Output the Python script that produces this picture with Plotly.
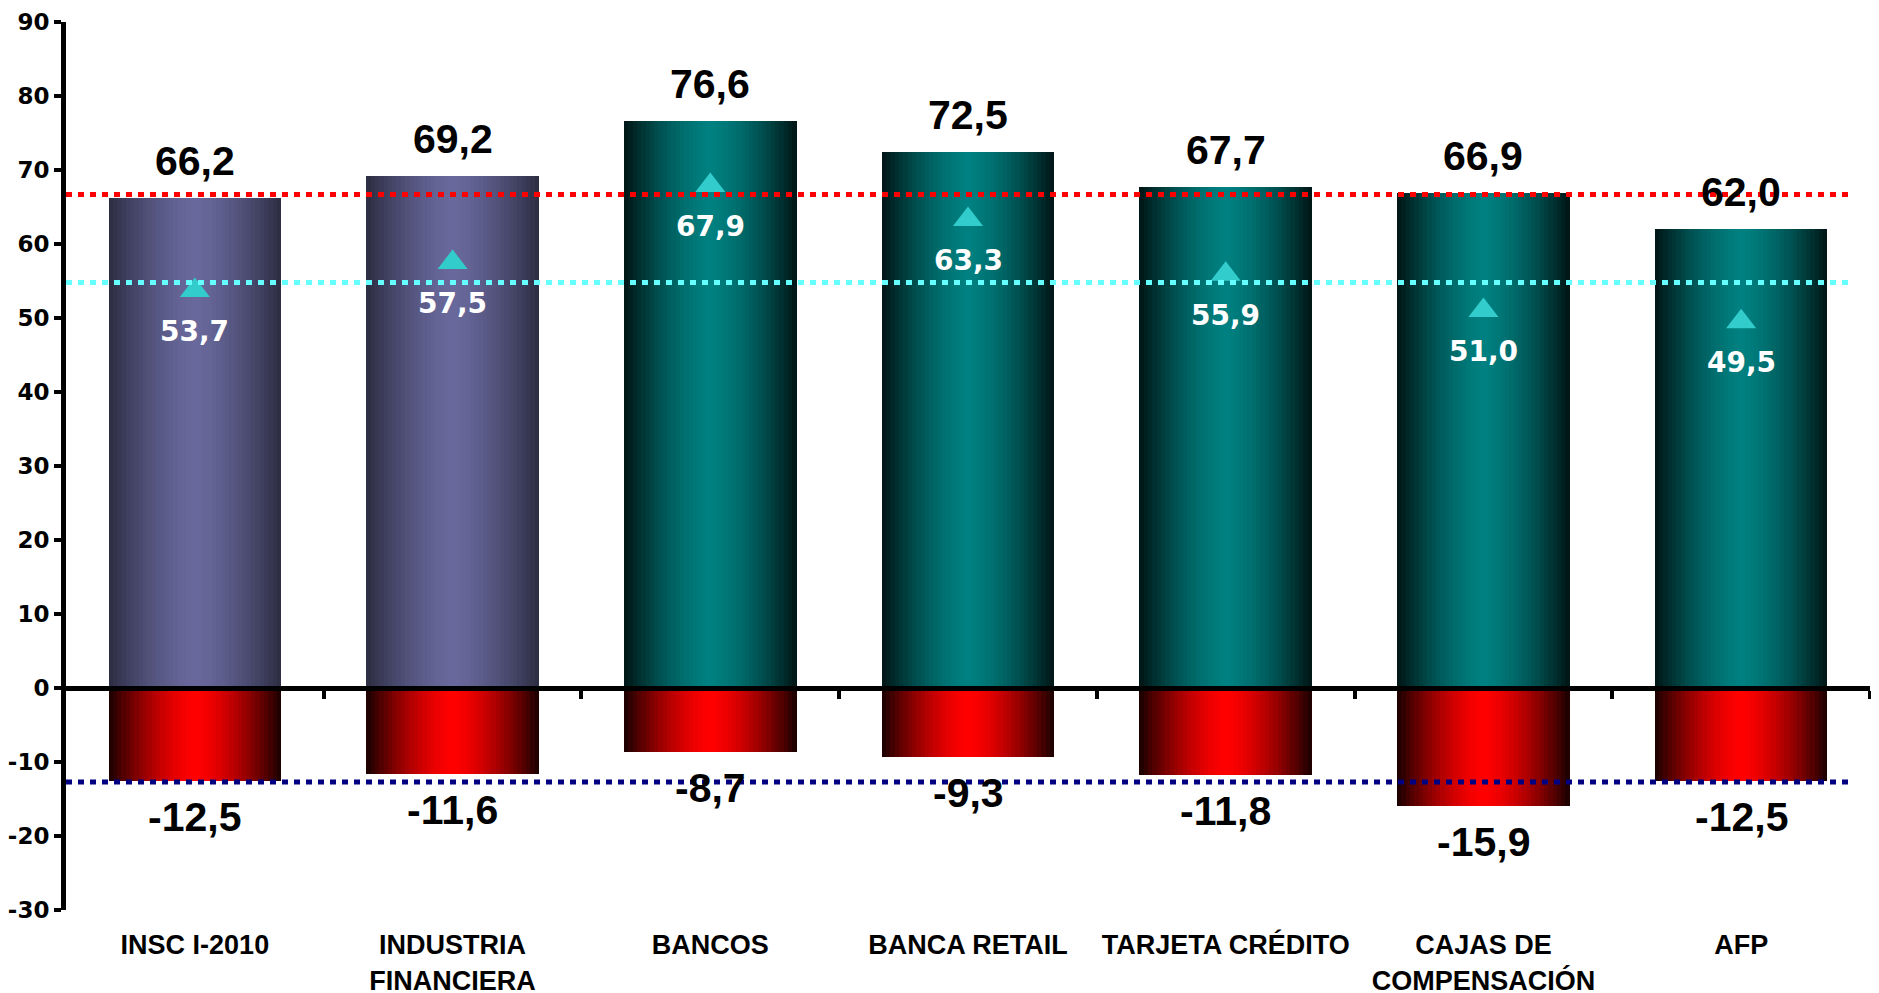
import plotly.graph_objects as go

# data
categories = ["INSC I-2010", "INDUSTRIA<br>FINANCIERA", "BANCOS", "BANCA RETAIL",
              "TARJETA CRÉDITO", "CAJAS DE<br>COMPENSACIÓN", "AFP"]
positive = [66.2, 69.2, 76.6, 72.5, 67.7, 66.9, 62.0]
negative = [-12.5, -11.6, -8.7, -9.3, -11.8, -15.9, -12.5]
triangles = [53.7, 57.5, 67.9, 63.3, 55.9, 51.0, 49.5]
ref_top = 66.7
ref_mid = 54.8
ref_low = -12.7
y_ticks = list(range(-30, 91, 10))

x_idx = list(range(len(categories)))
bar_w = 0.67
n_slices = 40


def fmt(v):
    return f"{v:.1f}".replace(".", ",")


def mix(dark, bright, f):
    c = [round(d + (b - d) * f) for d, b in zip(dark, bright)]
    return f"rgb({c[0]},{c[1]},{c[2]})"


purple = ((44, 44, 66), (104, 104, 156))
teal = ((0, 20, 20), (0, 128, 128))
red = ((24, 0, 0), (255, 0, 0))
pos_styles = [purple, purple, teal, teal, teal, teal, teal]

fig = go.Figure()

# cylinder-like shading: each bar is built from thin slices
step = bar_w / n_slices
for k in range(n_slices):
    t = (k + 0.5) / n_slices
    f = 1 - abs(2 * t - 1) ** 1.5
    w = step * 1.15 if k < n_slices - 1 else step
    off = -bar_w / 2 + k * step
    fig.add_trace(go.Bar(x=x_idx, y=positive, width=w, offset=off,
                         marker_color=[mix(s[0], s[1], f) for s in pos_styles],
                         marker_line_width=0, hoverinfo="skip", showlegend=False))
    fig.add_trace(go.Bar(x=x_idx, y=negative, width=w, offset=off,
                         marker_color=mix(red[0], red[1], f),
                         marker_line_width=0, hoverinfo="skip", showlegend=False))

fig.add_trace(go.Scatter(x=x_idx, y=triangles, mode="markers",
                         marker=dict(symbol="triangle-up", size=26, color="#33CCCC"),
                         hoverinfo="skip", showlegend=False))
# empty trace so the zero axis is drawn
fig.add_trace(go.Scatter(x=[], y=[], xaxis="x2", showlegend=False))

big = dict(family="Liberation Sans", size=41, color="black", weight="bold")
small = dict(family="DejaVu Sans", size=28, color="white", weight="bold")
for i in x_idx:
    fig.add_annotation(x=i, y=positive[i], text=fmt(positive[i]), showarrow=False,
                       yanchor="bottom", yshift=12, font=big)
    fig.add_annotation(x=i, y=negative[i], text=fmt(negative[i]), showarrow=False,
                       yanchor="top", yshift=-11, font=big)
    fig.add_annotation(x=i, y=triangles[i], text=fmt(triangles[i]), showarrow=False,
                       yanchor="middle", yshift=-41, font=small)

for val, col in [(ref_top, "#FF0000"), (ref_mid, "#66FFFF"), (ref_low, "#000080")]:
    fig.add_shape(type="line", xref="x", yref="y", x0=-0.5, x1=6.43, y0=val, y1=val,
                  line=dict(color=col, width=5, dash="6px,6px"), layer="above")

fig.update_layout(
    width=1879, height=993,
    margin=dict(l=58, r=17, t=14, b=91),
    paper_bgcolor="white", plot_bgcolor="white",
    barmode="overlay", bargap=0,
    xaxis=dict(range=[-0.5, 6.5], tickvals=x_idx, ticktext=categories,
               ticks="outside", ticklen=11, tickcolor="rgba(0,0,0,0)",
               showline=False, showgrid=False, zeroline=False, automargin=False,
               tickfont=dict(family="Liberation Sans", size=27, color="black", weight="bold")),
    xaxis2=dict(range=[-0.5, 6.5], overlaying="x", anchor="free", position=0.25,
                showline=True, linewidth=5, linecolor="black",
                ticks="outside", tickvals=[i + 0.5 for i in x_idx], ticklen=8, tickwidth=4,
                tickcolor="black", showticklabels=False, showgrid=False, zeroline=False,
                layer="above traces", automargin=False),
    yaxis=dict(range=[-30, 90], tickvals=y_ticks, ticktext=[str(v) for v in y_ticks],
               showline=True, linewidth=5, linecolor="black",
               ticks="outside", ticklen=7, tickwidth=4, tickcolor="black",
               showgrid=False, zeroline=False, automargin=False,
               ticklabeloverflow="allow",
               tickfont=dict(family="DejaVu Sans", size=23, color="black", weight="bold")),
)

fig.write_html("out.html")
